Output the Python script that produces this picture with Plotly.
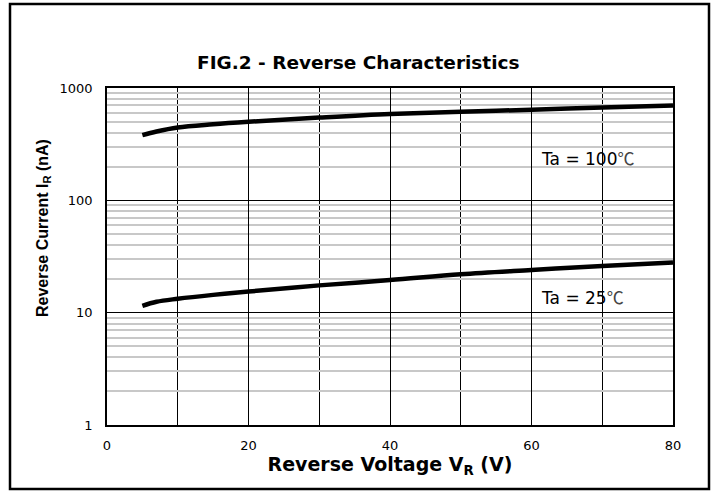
import plotly.graph_objects as go

# Data
voltage = [5, 7, 10, 15, 20, 30, 40, 50, 60, 70, 80]
ir_100c = [380, 410, 445, 475, 500, 545, 587, 615, 640, 670, 700]
ir_25c = [11.5, 12.5, 13.3, 14.4, 15.4, 17.5, 19.5, 22.0, 24.0, 26.0, 28.0]

x_tickvals = [0, 20, 40, 60, 80]
x_ticktext = ["0", "20", "40", "60", "80"]
y_tickvals = [1, 10, 100, 1000]
y_ticktext = ["1", "10", "100", "1000"]
y_minor = [m * d for d in (1, 10, 100) for m in range(2, 10)]

ARIAL = "Liberation Sans, Arial, sans-serif"
WIDE = "DejaVu Sans, sans-serif"
CJK = "Noto Sans CJK SC"
DEG = f"<span style='font-family:{CJK};color:#444'>℃</span>"

fig = go.Figure()
fig.add_trace(go.Scatter(x=voltage, y=ir_100c, mode="lines",
                         line=dict(color="black", width=4.5, shape="spline"),
                         showlegend=False))
fig.add_trace(go.Scatter(x=voltage, y=ir_25c, mode="lines",
                         line=dict(color="black", width=4.5, shape="spline"),
                         showlegend=False))

fig.update_layout(
    width=717, height=491,
    margin=dict(l=107, r=44, t=88, b=66),
    paper_bgcolor="white", plot_bgcolor="white",
    font=dict(family=WIDE, color="black", size=13),
    showlegend=False,
    xaxis=dict(
        range=[0, 80], tickmode="array", tickvals=x_tickvals, ticktext=x_ticktext,
        showgrid=True, gridcolor="black", gridwidth=1,
        minor=dict(dtick=10, showgrid=True, gridcolor="black", gridwidth=1, ticks=""),
        showline=True, linecolor="black", linewidth=1.5, mirror=True,
        zeroline=False, ticks="", ticklabelstandoff=8,
        tickfont=dict(size=13, family=WIDE),
        title=dict(text="<b>Reverse Voltage V<sub>R</sub> (V)</b>",
                   font=dict(size=19, family=WIDE), standoff=4),
    ),
    yaxis=dict(
        type="log", range=[0, 3], tickmode="array",
        tickvals=y_tickvals, ticktext=y_ticktext,
        showgrid=True, gridcolor="black", gridwidth=1,
        minor=dict(tickmode="array", tickvals=y_minor, showgrid=True,
                   gridcolor="#c8c8c8", gridwidth=2, ticks=""),
        showline=True, linecolor="black", linewidth=1.5, mirror=True,
        zeroline=False, ticks="", ticklabelstandoff=10,
        tickfont=dict(size=13, family=WIDE),
    ),
    annotations=[
        dict(text="<b>FIG.2 - Reverse Characteristics</b>", xref="paper", yref="paper",
             x=0.445, y=1.077, showarrow=False, font=dict(size=18.5, family=WIDE),
             xanchor="center", yanchor="middle"),
        dict(text="<b>Reverse Current I<sub>R</sub> (nA)</b>", xref="paper", yref="paper",
             x=(43 - 107) / 566, y=(425 - 228) / 337, textangle=-90,
             showarrow=False, xanchor="center", yanchor="middle",
             font=dict(size=16, family=ARIAL)),
        dict(text="Ta = 100" + DEG, xref="x", yref="y", x=61.0, y=2.377,
             showarrow=False, xanchor="left", yanchor="middle",
             font=dict(size=17, family=WIDE)),
        dict(text="Ta = 25" + DEG, xref="x", yref="y", x=61.0, y=1.148,
             showarrow=False, xanchor="left", yanchor="middle",
             font=dict(size=17, family=WIDE)),
    ],
    shapes=[
        dict(type="rect", xref="paper", yref="paper",
             x0=(10 - 107) / 566, x1=(709 - 107) / 566,
             y0=(425 - 489) / 337, y1=(425 - 4) / 337,
             line=dict(color="black", width=2.5), fillcolor="rgba(0,0,0,0)",
             layer="above"),
    ],
)

fig.write_html("out.html", config={"displayModeBar": False},
               post_script="document.body.style.margin='0';document.body.style.padding='0';")
